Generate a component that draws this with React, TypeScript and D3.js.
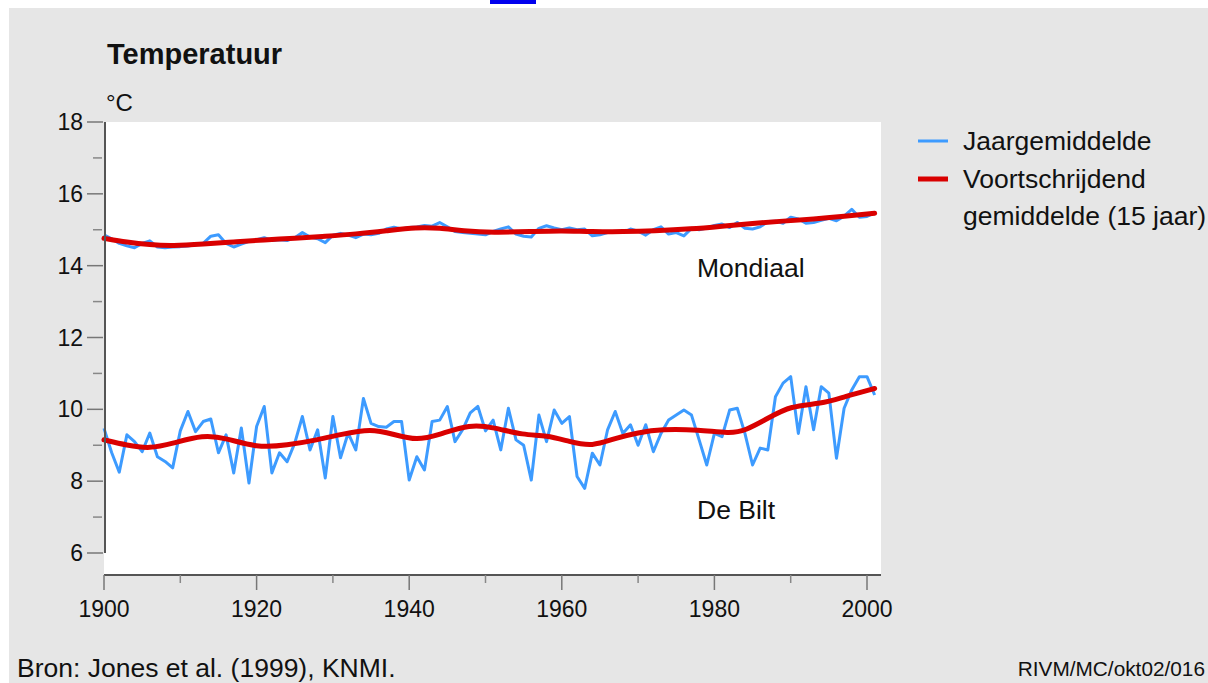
import React from 'react'
import * as d3 from 'd3'

// jaargemiddelde temperatuur, 1900 t/m 2001
const firstYear = 1900

const deBiltJaar = [
  9.47, 8.8, 8.25, 9.29, 9.1, 8.82, 9.34, 8.68, 8.55, 8.37,
  9.4, 9.94, 9.38, 9.66, 9.73, 8.79, 9.29, 8.23, 9.48, 7.95,
  9.52, 10.08, 8.23, 8.79, 8.54, 9.06, 9.8, 8.87, 9.43, 8.09,
  9.8, 8.65, 9.34, 8.87, 10.3, 9.61, 9.52, 9.5, 9.66, 9.66,
  8.03, 8.68, 8.31, 9.66, 9.7, 10.08, 9.1, 9.43, 9.9, 10.08,
  9.4, 9.7, 8.87, 10.03, 9.15, 9.0, 8.03, 9.84, 9.1, 9.98,
  9.61, 9.8, 8.13, 7.8, 8.78, 8.45, 9.43, 9.94, 9.33, 9.57,
  9.0, 9.57, 8.82, 9.33, 9.7, 9.84, 9.98, 9.84, 9.15, 8.45,
  9.33, 9.24, 9.98, 10.03, 9.33, 8.45, 8.92, 8.87, 10.35, 10.73,
  10.91, 9.33, 10.63, 9.43, 10.63, 10.45, 8.64, 10.03, 10.54, 10.91,
  10.91, 10.4,
]

const mondiaalJaar = [
  14.86, 14.75, 14.62, 14.55, 14.5, 14.62, 14.69, 14.52, 14.5, 14.52,
  14.53, 14.55, 14.58, 14.62, 14.82, 14.86, 14.62, 14.52, 14.6, 14.68,
  14.72, 14.78, 14.7, 14.72, 14.7, 14.78, 14.92, 14.8, 14.75, 14.64,
  14.85, 14.9, 14.85, 14.78, 14.88, 14.86, 14.9, 15.02, 15.07, 15.02,
  15.06, 15.08, 15.12, 15.1, 15.2, 15.08, 14.95, 14.92, 14.9, 14.88,
  14.86, 14.95, 15.02, 15.08, 14.88, 14.82, 14.8, 15.04, 15.11, 15.05,
  15.0, 15.05, 15.0, 15.02, 14.83, 14.86, 14.92, 14.95, 14.92, 15.02,
  14.96, 14.85, 15.0, 15.08, 14.88, 14.92, 14.83, 15.04, 15.0, 15.05,
  15.12, 15.16, 15.06, 15.2, 15.04, 15.02, 15.08, 15.23, 15.24, 15.18,
  15.35, 15.3, 15.18, 15.2, 15.26, 15.32, 15.25, 15.38, 15.57, 15.35,
  15.37, 15.47,
]

// voortschrijdend gemiddelde (15 jaar), [jaar, waarde]
const deBiltGem: [number, number][] = [
  [1900, 9.15], [1903, 9.0], [1906, 8.9], [1909, 9.05], [1913, 9.29],
  [1916, 9.2], [1920, 8.93], [1924, 9.0], [1928, 9.15], [1931, 9.3],
  [1935, 9.47], [1938, 9.3], [1941, 9.13], [1944, 9.3], [1948, 9.58],
  [1951, 9.5], [1955, 9.28], [1958, 9.28], [1961, 9.1], [1964, 8.96],
  [1967, 9.2], [1970, 9.35], [1973, 9.45], [1978, 9.43], [1982, 9.33],
  [1984, 9.4], [1987, 9.75], [1990, 10.1], [1994, 10.15], [1997, 10.35],
  [2001, 10.58],
]

const mondiaalGem: [number, number][] = [
  [1900, 14.76], [1903, 14.65], [1906, 14.58], [1909, 14.55], [1913, 14.6],
  [1917, 14.66], [1921, 14.72], [1925, 14.76], [1929, 14.82], [1933, 14.88],
  [1937, 14.97], [1941, 15.07], [1944, 15.05], [1947, 14.97], [1951, 14.92],
  [1956, 14.95], [1960, 14.98], [1964, 14.94], [1968, 14.95], [1972, 14.97],
  [1977, 15.02], [1981, 15.1], [1985, 15.18], [1989, 15.24], [1993, 15.3],
  [1997, 15.37], [2001, 15.46],
]

const yTicks = [6, 8, 10, 12, 14, 16, 18]
const yMinor = [7, 9, 11, 13, 15, 17]
const xTicks = [1900, 1920, 1940, 1960, 1980, 2000]
const xMinor = [1910, 1930, 1950, 1970, 1990]

const legendItems = [
  { label: ['Jaargemiddelde'], color: '#3d9bff', width: 3 },
  { label: ['Voortschrijdend', 'gemiddelde (15 jaar)'], color: '#d90000', width: 5 },
]

const font = '"Liberation Sans", Arial, sans-serif'
const blue = '#3d9bff'
const red = '#d90000'

export default function App() {
  const width = 1208
  const height = 683

  // plot area
  const left = 104
  const plotRight = 881
  const plotTop = 122
  const plotBottom = 575

  const x = d3.scaleLinear().domain([1900, 2000]).range([left, 867])
  const y = d3.scaleLinear().domain([6, 18]).range([553, 122])

  const jaarLine = d3.line<number>()
    .x((d, i) => x(firstYear + i))
    .y(d => y(d))

  const gemLine = d3.line<[number, number]>()
    .x(d => x(d[0]))
    .y(d => y(d[1]))
    .curve(d3.curveBasis)

  return (
    <div style={{ position: 'absolute', left: 0, top: 0 }}>
      <svg width={width} height={height} style={{ display: 'block', background: '#fff' }} fontFamily={font}>
        {/* bit of the page text above the figure */}
        <rect x={490} y={0} width={46} height={4} fill="#0000ee" />

        <rect x={9} y={8} width={width - 9} height={height - 8} fill="#e6e6e6" />
        <rect x={left} y={plotTop} width={plotRight - left} height={plotBottom - plotTop} fill="#fff" />

        <text x={107} y={64} fontSize={29} fontWeight="bold" fill="#111">Temperatuur</text>
        <text x={106} y={111} fontSize={24} fill="#111">°C</text>

        {/* series */}
        <path d={jaarLine(mondiaalJaar) ?? ''} fill="none" stroke={blue} strokeWidth={3} strokeLinejoin="round" />
        <path d={jaarLine(deBiltJaar) ?? ''} fill="none" stroke={blue} strokeWidth={3} strokeLinejoin="round" />
        <path d={gemLine(mondiaalGem) ?? ''} fill="none" stroke={red} strokeWidth={5} strokeLinecap="round" />
        <path d={gemLine(deBiltGem) ?? ''} fill="none" stroke={red} strokeWidth={5} strokeLinecap="round" />

        <text x={697} y={277} fontSize={26.5} fill="#111">Mondiaal</text>
        <text x={697} y={519} fontSize={26.5} fill="#111">De Bilt</text>

        {/* y axis */}
        <line x1={left + 1} x2={left + 1} y1={y(18)} y2={y(6)} stroke="#555" strokeWidth={2} />
        {yTicks.map(t => (
          <g key={t}>
            <line x1={87} x2={103} y1={y(t)} y2={y(t)} stroke="#777" strokeWidth={1.5} />
            <text x={83} y={y(t)} dy="0.35em" textAnchor="end" fontSize={23} fill="#111">{t}</text>
          </g>
        ))}
        {yMinor.map(t => (
          <line key={t} x1={93} x2={102} y1={y(t)} y2={y(t)} stroke="#888" strokeWidth={1.5} />
        ))}

        {/* x axis */}
        <line x1={left} x2={plotRight} y1={plotBottom} y2={plotBottom} stroke="#555" strokeWidth={2} />
        {xTicks.map(t => (
          <g key={t}>
            <line x1={x(t)} x2={x(t)} y1={plotBottom} y2={plotBottom + 15} stroke="#777" strokeWidth={1.5} />
            <text x={x(t)} y={617} textAnchor="middle" fontSize={23} fill="#111">{t}</text>
          </g>
        ))}
        {xMinor.map(t => (
          <line key={t} x1={x(t)} x2={x(t)} y1={plotBottom} y2={plotBottom + 8} stroke="#888" strokeWidth={1.5} />
        ))}

        {/* legend */}
        {legendItems.map((item, i) => {
          const ly = 141 + i * 38
          return (
            <g key={i}>
              <line x1={918} x2={948} y1={ly} y2={ly} stroke={item.color} strokeWidth={item.width} />
              {item.label.map((s, j) => (
                <text key={j} x={963} y={ly + 9 + j * 37} fontSize={26.5} fill="#111">{s}</text>
              ))}
            </g>
          )
        })}

        <text x={17} y={677} fontSize={26.5} fill="#111">Bron: Jones et al. (1999), KNMI.</text>
        <text x={1205} y={676} textAnchor="end" fontSize={20.8} fill="#111">RIVM/MC/okt02/016</text>
      </svg>
    </div>
  )
}
